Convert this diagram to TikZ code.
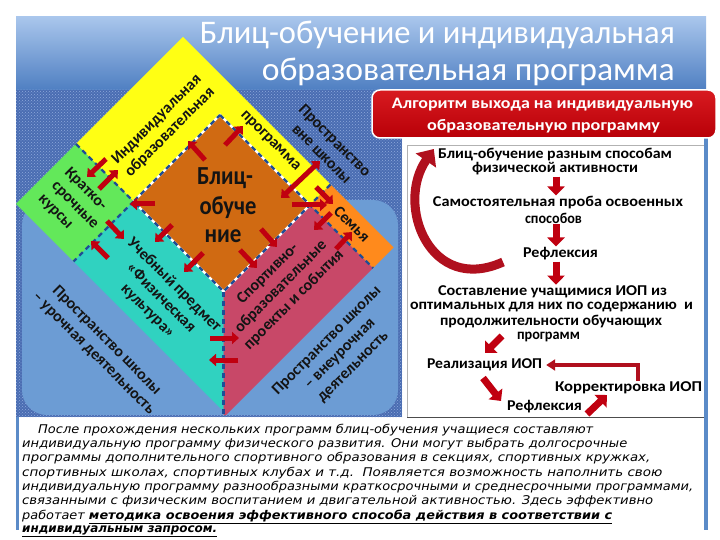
\documentclass[tikz,border=0pt]{standalone}
\usepackage{fontspec}
\usepackage{graphicx}
\setmainfont{Carlito}
\newfontfamily\parfont{DejaVu Sans}
\usetikzlibrary{arrows.meta,patterns}
\definecolor{bannerTop}{HTML}{A9C6EC}
\definecolor{bannerBot}{HTML}{4F7FC2}
\definecolor{texbase}{HTML}{4A6DB2}
\definecolor{texdot}{HTML}{8FA9DC}
\definecolor{lblue}{HTML}{6C9CD4}
\definecolor{frameblue}{HTML}{5B8BC8}
\definecolor{cyellow}{HTML}{FFFF14}
\definecolor{cgreen}{HTML}{63E85A}
\definecolor{corange}{HTML}{D06A12}
\definecolor{cteal}{HTML}{30D2C0}
\definecolor{cred}{HTML}{C84868}
\definecolor{csemya}{HTML}{FF8A1C}
\definecolor{dashblue}{HTML}{1F4E96}
\definecolor{arrred}{HTML}{C00010}
\definecolor{hdrtop}{HTML}{D81A20}
\definecolor{hdrbot}{HTML}{B80008}
\definecolor{darktext}{HTML}{141414}
\definecolor{curvred}{HTML}{B0101E}
\newcommand\fitw[2]{\resizebox{#1pt}{\height}{#2}}
\begin{document}
\begin{tikzpicture}[x=1pt,y=-1pt,
  rt/.style={font=\bfseries\fontsize{16}{18.5}\selectfont, text=darktext, inner sep=0pt},
  ft/.style={font=\bfseries\fontsize{15}{17}\selectfont, text=black, inner sep=1pt},
  pl/.style={font=\parfont\itshape\fontsize{12}{14}\selectfont, anchor=base west, inner sep=0pt},
  ttl/.style={font=\fontsize{33}{35}\selectfont, text=white, anchor=east, inner sep=0pt},
  ctr/.style={font=\bfseries\fontsize{26}{28}\selectfont, text=darktext, inner sep=0pt},
  dashb/.style={dashblue, line width=2.2pt, dash pattern=on 5pt off 4pt},
  whiteb/.style={white, line width=2.2pt},
  sa/.style={arrred, line width=5pt, -{Triangle[length=7pt,width=12pt]}},
  da/.style={arrred, line width=5pt, {Triangle[length=7pt,width=12pt]}-{Triangle[length=7pt,width=12pt]}},
  blk/.style={arrred, line width=7pt, -{Triangle[length=9pt,width=17pt]}},
  bigarr/.style={curvred, line width=9pt, -{Triangle[length=14pt,width=24pt]}},
  elb/.style={curvred, line width=3.5pt, -{Triangle[length=9pt,width=11pt]}}
]
\useasboundingbox (0,0) rectangle (720,540);
\fill[white] (0,0) rectangle (720,540);
% banner
\shade[top color=bannerTop,bottom color=bannerBot] (16,17) rectangle (706,90);
% texture
\fill[texbase] (16,90) rectangle (402,417);
\fill[pattern=crosshatch dots, pattern color=texdot] (16,90) rectangle (402,417);
% frame stripes
\fill[frameblue] (16,417) rectangle (19,530);
\fill[frameblue] (704,90) rectangle (708,530);
% light blue rounded rectangle
\fill[lblue, rounded corners=25pt] (22,200) rectangle (398,415);

% region vertices
\coordinate (Ytop) at (183,37);
\coordinate (Yro) at (330.5,184.5);
\coordinate (Ot) at (220,115);
\coordinate (Or) at (310,205);
\coordinate (Ob) at (223.5,291.5);
\coordinate (Ol) at (133.5,201.5);
\coordinate (Ylo) at (76,144);
\coordinate (Gl) at (16,204);
\coordinate (Gb) at (73.5,261.5);
\coordinate (Tb) at (223.5,411.5);
\coordinate (Sro) at (393.5,247.5);
\coordinate (Sri) at (373,268);
\coordinate (Rb) at (226,415);
\coordinate (Rbl) at (223.5,415);

\fill[cyellow] (Ytop)--(Yro)--(Or)--(Ot)--(Ol)--(Ylo)--cycle;
\fill[cgreen] (Ylo)--(Ol)--(Gb)--(Gl)--cycle;
\fill[cteal] (Ol)--(Ob)--(Tb)--(Gb)--cycle;
\fill[cred] (Ob)--(Or)--(Sri)--(Rb)--(Rbl)--cycle;
\fill[csemya] (Or)--(Yro)--(Sro)--(Sri)--cycle;
\fill[corange] (Ot)--(Or)--(Ob)--(Ol)--cycle;

% dashed borders
\draw[whiteb] (Ot)--(Or)--(Ob)--(Ol)--cycle;
\draw[dashb] (Ot)--(Or)--(Ob)--(Ol)--cycle;
\draw[dashb] (Ylo)--(Ol)--(Gb);
\draw[dashb] (Ob)--(Rbl);
\draw[dashb] (Yro)--(Or)--(Sri);

% small red arrows
\draw[sa] (106,159) -- (87,177);
\draw[sa] (99,189) -- (118,170);
\draw[sa] (205,160) -- (188,141);
\draw[sa] (225,145) -- (243,126);
\draw[da] (281,198) -- (320,161);
\draw[sa] (292,205) -- (327,205);
\draw[sa] (316,187) -- (333,204);
\draw[sa] (331,213) -- (314,230);
\draw[sa] (336,249) -- (352,232);
\draw[sa] (261,229) -- (277,247);
\draw[sa] (240,250) -- (257,268);
\draw[sa] (172,225) -- (155,242);
\draw[sa] (203,253) -- (184,272);
\draw[sa] (155,204) -- (130,204);
\draw[sa] (107,221) -- (124,239);
\draw[sa] (108,258) -- (91,241);
\draw[sa] (210,338) -- (239,338);
\draw[sa] (238,360) -- (209,360);

% diamond texts
\node[rt, rotate=45, align=center] (tind) at (163.5,126) {Индивидуальная\\образовательная};
\node[rt, rotate=-45] (tprog) at (270,141) {программа};
\node[rt, rotate=-45, align=center] (tvne) at (328.5,147) {Пространство\\вне школы};
\node[rt, rotate=-45] (tsem) at (352,224) {Семья};
\node[rt, rotate=-45, align=left] (tkr) at (75,205) {Кратко-\\срочные\\курсы};
\node[rt, rotate=-45, align=center] (tteal) at (161,298) {Учебный предмет\\«Физическая\\культура»};
\node[rt, rotate=45, align=center] (tsport) at (281,287) {Спортивно-\\образовательные\\проекты и события};
\node[rt, rotate=-45, align=center] (tsch1) at (100,347) {Пространство школы\\– урочная деятельность};
\node[rt, rotate=45, align=center] (tsch2) at (340,354) {Пространство школы\\– внеурочная\\деятельность};
\node[ctr] (c1) at (225,178) {\fitw{56}{Блиц-}};
\node[ctr] (c2) at (228,208) {\fitw{57}{обуче}};
\node[ctr] (c3) at (223,236) {\fitw{37}{ние}};

% title
\node[ttl] (t1) at (675,35) {\fitw{475}{Блиц-обучение и индивидуальная}};
\node[ttl] (t2) at (675,72) {\fitw{413}{образовательная программа}};

% white box
\fill[white] (407,145) rectangle (704,417);
\draw[gray!60, line width=0.8pt] (407,417) -- (407,145) -- (704,145);
\draw[black!70, line width=1pt] (407,417) -- (704,417);

% header
\node[draw=white, line width=1.5pt, top color=hdrtop, bottom color=hdrbot, rounded corners=8pt, minimum width=344pt, minimum height=48pt, inner sep=0pt] (hdr) at (544,114) {};
\node[font=\bfseries\fontsize{16}{18}\selectfont, text=white, inner sep=0pt] (h1) at (542.5,105) {\fitw{301}{Алгоритм выхода на индивидуальную}};
\node[font=\bfseries\fontsize{16}{18}\selectfont, text=white, inner sep=0pt] (h2) at (543.5,126) {\fitw{233}{образовательную программу}};

% flowchart
\coordinate (col) at (556,0);
\node[ft] (b1a) at (555,155) {\fitw{234}{Блиц-обучение разным способам}};
\node[ft] (b1b) at (555,169) {\fitw{166}{физической активности}};
\node[ft] (s1a) at (558,203) {\fitw{250}{Самостоятельная проба освоенных}};
\node[ft] (s1b) at (553.5,218) {\fitw{57}{способов}};
\node[ft] (r1) at (560.5,254) {\fitw{75}{Рефлексия}};
\node[ft] (cc1) at (552.5,292) {\fitw{229}{Составление учащимися ИОП из}};
\node[ft] (cc2) at (551.5,307) {\fitw{283}{оптимальных для них по содержанию~~и}};
\node[ft] (cc3) at (551,322) {\fitw{222}{продолжительности обучающих}};
\node[ft] (cc4) at (548.5,337) {\fitw{63}{программ}};
\node[ft] (re) at (484.5,365) {\fitw{115}{Реализация ИОП}};
\node[ft] (ko) at (628.5,388) {\fitw{147}{Корректировка ИОП}};
\node[ft] (r2) at (544.5,407) {\fitw{75}{Рефлексия}};

\draw[blk] (b1b.south -| col) -- (s1a.north -| col);
\draw[blk] (s1b.south -| col) -- (r1.north -| col);
\draw[blk] (r1.south -| col) -- (cc1.north -| col);
\coordinate (d1s) at (502,336);
\coordinate (d1e) at (485,353);
\draw[blk] (d1s) -- (d1e);
\coordinate (d2s) at (483,378);
\coordinate (d2e) at (501,401);
\draw[blk] (d2s) -- (d2e);
\coordinate (d3s) at (587,414);
\coordinate (d3e) at (607,395);
\draw[blk] (d3s) -- (d3e);
\coordinate (kc) at (638,381);
\draw[elb] (kc) |- ([xshift=3pt]re.east);
\coordinate (cvs) at (503,262);
\draw[bigarr] (cvs) .. controls (430,295) and (395,205) .. ([xshift=-3pt,yshift=6pt]b1a.west);

% paragraph
\node[pl] (p1) at (38,433) {\fitw{555}{После прохождения нескольких программ блиц-обучения учащиеся составляют}};
\node[pl] (p2) at (22,447) {\fitw{605}{индивидуальную программу физического развития. Они могут выбрать долгосрочные}};
\node[pl] (p3) at (22,461) {\fitw{628}{программы дополнительного спортивного образования в секциях, спортивных кружках,}};
\node[pl] (p4) at (22,476) {\fitw{640}{спортивных школах, спортивных клубах и т.д.~~Появляется возможность наполнить свою}};
\node[pl] (p5) at (22,490) {\fitw{671}{индивидуальную программу разнообразными краткосрочными и среднесрочными программами,}};
\node[pl] (p6) at (22,504) {\fitw{631}{связанными с физическим воспитанием и двигательной активностью. Здесь эффективно}};
\node[pl] (p7) at (22,519) {\fitw{590}{работает \underline{\bfseries методика освоения эффективного способа действия в соответствии с}}};
\node[pl] (p8) at (22,532) {\fitw{195}{\underline{\bfseries индивидуальным запросом.}}};
\end{tikzpicture}
\end{document}
